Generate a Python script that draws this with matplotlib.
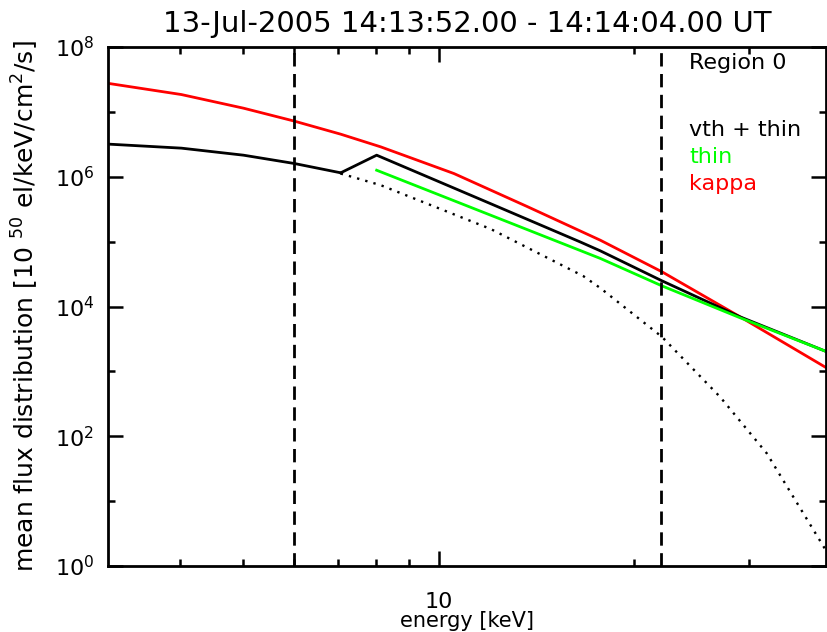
import matplotlib
matplotlib.use('Agg')
from matplotlib import pyplot as plt
from matplotlib.ticker import FixedLocator, NullFormatter

# values (log-log axes)
# thermal (vth) component, solid below the kink
e_vth = [3.11, 4.02, 5.01, 6.0, 7.07]
f_vth = [3.18e6, 2.76e6, 2.15e6, 1.60e6, 1.15e6]

# thermal component continued as dotted line
e_vth_tail = [7.07, 8.15, 12.02, 16.70, 17.74, 22.06, 27.12, 31.98, 39.55]
f_vth_tail = [1.12e6, 7.4e5, 1.57e5, 2.94e4, 1.92e4, 3.41e3, 4.02e2, 5.46e1, 1.66e0]

# vth + thin total, above the kink
e_total = [7.07, 8.03, 12.02, 16.5, 17.74, 22.06, 29.1, 39.6]
f_total = [1.15e6, 2.15e6, 3.85e5, 9.93e4, 7.2e4, 2.49e4, 6.93e3, 2.00e3]

# thin-target power law
e_thin = [8.03, 17.74, 22.06, 29.1, 39.6]
f_thin = [1.26e6, 5.5e4, 2.08e4, 6.7e3, 2.00e3]

# kappa fit
e_kappa = [3.11, 4.02, 5.01, 6.0, 7.07, 8.145, 10.56, 13.69, 17.74, 22.06, 29.1, 39.6]
f_kappa = [2.74e7, 1.85e7, 1.14e7, 7.2e6, 4.53e6, 2.89e6, 1.12e6, 3.47e5, 1.05e5, 3.43e4, 6.93e3, 1.12e3]

# fit energy range markers
fit_range = [6.0, 22.0]

fig = plt.figure(figsize=(8.27, 6.32), dpi=100)
ax = fig.add_axes([108 / 827, 1 - 566 / 632, (826 - 108) / 827, (566 - 47) / 632])

lw = 2.0
ax.plot(e_kappa, f_kappa, c='#ff0000', lw=lw)
ax.plot(e_vth, f_vth, c='black', lw=lw)
ax.plot(e_vth_tail, f_vth_tail, c='black', lw=1.7, ls=(0, (1, 2.6)))
ax.plot(e_total, f_total, c='black', lw=lw)
ax.plot(e_thin, f_thin, c='#00ff00', lw=lw)
for e in fit_range:
    ax.axvline(e, c='black', lw=lw, ls=(0, (4.8, 2.7)))

ax.set_xscale('log')
ax.set_yscale('log')
ax.set_xlim(3.1, 39.45)
ax.set_ylim(1e0, 1e8)

# IDL style ticks
ax.xaxis.set_major_locator(FixedLocator([10]))
ax.xaxis.set_minor_locator(FixedLocator([3, 4, 5, 6, 7, 8, 9, 20, 30, 40]))
ax.xaxis.set_minor_formatter(NullFormatter())
ax.set_xticklabels(['10'])
ax.yaxis.set_major_locator(FixedLocator([1e0, 1e2, 1e4, 1e6, 1e8]))
ax.yaxis.set_minor_locator(FixedLocator([1e1, 1e3, 1e5, 1e7]))
ax.yaxis.set_minor_formatter(NullFormatter())
ax.tick_params(which='both', direction='in', top=True, right=True, width=1.8, labelsize=16)
ax.tick_params(axis='both', which='major', length=10.5)
ax.tick_params(axis='both', which='minor', length=5)
ax.tick_params(axis='x', pad=19)
ax.tick_params(axis='y', pad=10)
for s in ax.spines.values():
    s.set_linewidth(2.0)

ax.set_title('13-Jul-2005 14:13:52.00 - 14:14:04.00 UT', fontsize=21, pad=11)
ax.set_xlabel('energy [keV]', fontsize=15, labelpad=-1)
ax.set_ylabel(r'mean flux distribution [10 $^{50}$ el/keV/cm$^2$/s]', fontsize=18, labelpad=10)

fig.text(689 / 827, 1 - 63 / 632, 'Region 0', fontsize=16, va='center')
fig.text(689 / 827, 1 - 130 / 632, 'vth + thin', fontsize=16, va='center', color='black')
fig.text(689 / 827, 1 - 157 / 632, 'thin', fontsize=16, va='center', color='#00ff00')
fig.text(689 / 827, 1 - 184 / 632, 'kappa', fontsize=16, va='center', color='#ff0000')

plt.savefig('out.png', dpi=100)
